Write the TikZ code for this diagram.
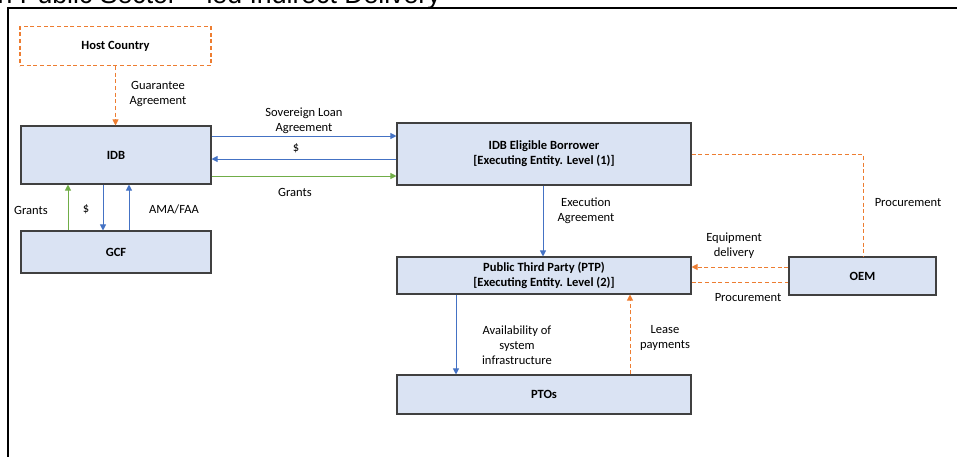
\documentclass[tikz,border=0pt]{standalone}
\usepackage{fontspec}
\setmainfont{Carlito}
\newfontfamily\titlefont{Liberation Sans}
\usetikzlibrary{arrows.meta}
\definecolor{boxblue}{HTML}{DAE3F3}
\definecolor{lineblue}{HTML}{4472C4}
\definecolor{linegreen}{HTML}{70AD47}
\definecolor{lineorange}{HTML}{ED7D31}
\tikzset{
  entity/.style={draw=black!75, line width=0.8pt, fill=boxblue, inner sep=0pt, align=center, font=\bfseries\fontsize{9.4}{11.25}\selectfont},
  hostbox/.style={entity, draw=lineorange, fill=white, dash pattern=on 3pt off 2pt},
  lbl/.style={align=center, inner sep=0pt, font=\fontsize{9.4}{11.25}\selectfont},
  blueflow/.style={draw=lineblue, line width=0.75pt},
  greenflow/.style={draw=linegreen, line width=0.75pt},
  orangeflow/.style={draw=lineorange, line width=0.75pt, dash pattern=on 3pt off 2pt}
}
\begin{document}
\begin{tikzpicture}[x=0.75pt, y=-0.75pt, >={Triangle[length=4.5pt,width=4.5pt]}]
\useasboundingbox (0,0) rectangle (957,457);
\node[anchor=base east, inner sep=0pt, font=\titlefont\fontsize{20}{24}\selectfont] (title) at (441,3.5) {n Public Sector – led Indirect Delivery};
\draw[line width=2.2pt] (8,470) -- (8,8) -- (970,8);
\node[hostbox, minimum width=143.25pt, minimum height=29.25pt] (host) at (115.5,46) {Host Country};
\node[entity, minimum width=142.5pt, minimum height=43.5pt] (idb) at (116,155) {IDB};
\node[entity, minimum width=142.5pt, minimum height=31.5pt] (gcf) at (116,252) {GCF};
\node[entity, minimum width=220.5pt, minimum height=46.5pt] (borrower) at (544,154) {IDB Eligible Borrower\\{}[Executing Entity. Level (1)]};
\node[entity, minimum width=220.5pt, minimum height=27.75pt] (ptp) at (544,275.5) {Public Third Party (PTP)\\{}[Executing Entity. Level (2)]};
\node[entity, minimum width=110.25pt, minimum height=28.5pt] (oem) at (862.5,276) {OEM};
\node[entity, minimum width=220.5pt, minimum height=29.25pt] (ptos) at (544,394.5) {PTOs};
\draw[orangeflow, ->] (host.south) -- (host.south |- idb.north);
\node[lbl] (guarantee) at (158,94) {Guarantee\\Agreement};
\draw[blueflow, ->] (idb.east |- 0,136) -- (borrower.west |- 0,136);
\node[lbl] (loan) at (304,121) {Sovereign Loan\\Agreement};
\draw[blueflow, ->] (borrower.west |- 0,159) -- (idb.east |- 0,159);
\node[lbl] (repay) at (296,148) {\$};
\draw[greenflow, ->] (idb.east |- 0,176) -- (borrower.west |- 0,176);
\node[lbl] (grants) at (295,192) {Grants};
\draw[greenflow, ->] (gcf.north -| 68,0) -- (idb.south -| 68,0);
\node[lbl] (gcfgrants) at (31,210) {Grants};
\draw[blueflow, ->] (idb.south -| 103,0) -- (gcf.north -| 103,0);
\node[lbl] (gcfdollar) at (86,209) {\$};
\draw[blueflow, ->] (gcf.north -| 129,0) -- (idb.south -| 129,0);
\node[lbl] (amafaa) at (174,209) {AMA/FAA};
\draw[blueflow, ->] (borrower.south -| 543,0) -- (ptp.north -| 543,0);
\node[lbl] (execution) at (586,211) {Execution\\Agreement};
\draw[orangeflow] (borrower.east |- 0,154) -| (oem.north -| 863,0);
\node[lbl] (procure) at (908,203) {Procurement};
\draw[orangeflow, ->] (oem.west |- 0,267) -- (ptp.east |- 0,267);
\node[lbl] (delivery) at (734,245.5) {Equipment\\delivery};
\draw[orangeflow] (ptp.east |- 0,282) -- (oem.west |- 0,282);
\node[lbl] (procurelow) at (748,298) {Procurement};
\draw[blueflow, ->] (ptp.south -| 456,0) -- (ptos.north -| 456,0);
\node[lbl] (availability) at (517,345) {Availability of\\system\\infrastructure};
\draw[orangeflow, ->] (ptos.north -| 630,0) -- (ptp.south -| 630,0);
\node[lbl] (lease) at (665,337.5) {Lease\\payments};
\end{tikzpicture}
\end{document}
